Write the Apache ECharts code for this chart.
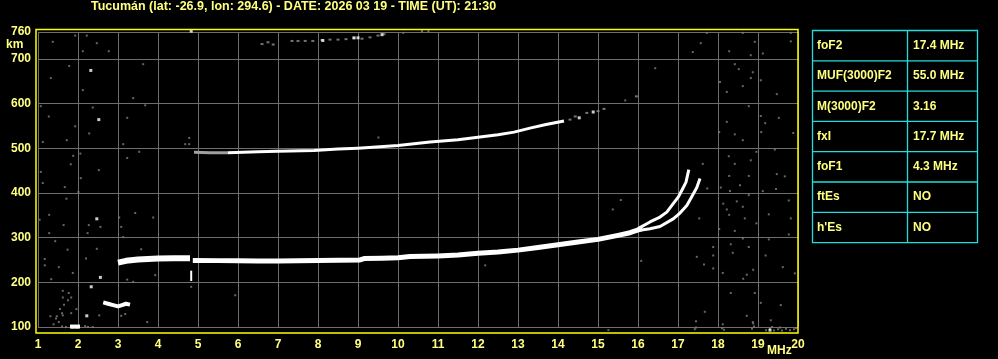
<!DOCTYPE html>
<html><head><meta charset="utf-8">
<script src="https://cdn.jsdelivr.net/npm/echarts@6/dist/echarts.min.js"></script>
<style>html,body{margin:0;padding:0;background:#000;}#c{width:998px;height:359px;}</style>
</head><body><div id="c"></div><script>
// ---------- text ----------
const TITLE = 'Tucumán (lat: -26.9, lon: 294.6) - DATE: 2026 03 19 - TIME (UT): 21:30';
const tableKeys = ['foF2', 'MUF(3000)F2', 'M(3000)F2', 'fxI', 'foF1', 'ftEs', "h'Es"];
const tableVals = ['17.4 MHz', '55.0 MHz', '3.16', '17.7 MHz', '4.3 MHz', 'NO', 'NO'];

// ---------- axes ----------
const freqMin = 1, freqMax = 20, freqStep = 1;
const hMin = 100, hMax = 760, hStep = 100;

// ---------- traces (frequency MHz, virtual height km) ----------
const traceAF = [3.0, 3.2, 3.5, 4.0, 4.4, 4.8];
const traceAH = [244, 248, 251, 253, 254, 254];
const traceBF = [4.87, 5.5, 6.0, 6.5, 7.0, 7.5, 8.0, 8.5, 9.05, 9.15, 9.6, 10.0, 10.3, 11.0, 11.5, 12.0, 12.5, 13.0, 13.5, 14.0, 14.5, 15.0, 15.5, 15.8, 16.1];
const traceBH = [249, 248.5, 248, 247.5, 247.5, 248, 249, 249.5, 250, 253, 254, 255, 257.5, 259, 261, 265, 268, 272, 278, 284, 290, 296, 305, 311, 320];
const oModeF = [16.0, 16.3, 16.55, 16.72, 16.88, 17.01, 17.12, 17.2, 17.27];
const oModeH = [320, 335, 346, 357, 376, 391, 410, 424, 452];
const xModeF = [16.0, 16.3, 16.55, 16.88, 17.05, 17.22, 17.34, 17.47, 17.55];
const xModeH = [316, 320, 325, 342, 355, 372, 391, 412, 432];
const hop2aF = [4.9, 5.3, 5.75];
const hop2aH = [491, 490, 490];
const hop2F = [5.75, 6.5, 7.0, 7.9, 8.5, 9.0, 9.55, 10.0, 10.8, 11.5, 12.05, 12.5, 12.9, 13.3, 13.7, 14.15];
const hop2H = [490, 492, 493, 495, 498, 500, 503, 506, 514, 519, 525, 530, 536, 545, 553, 561];
const eLayerF = [2.63, 2.75, 2.88, 3.0, 3.1, 3.2, 3.3];
const eLayerH = [155, 152, 149, 146, 149, 152, 150];
const lowF = [1.8, 2.05];
const lowH = [101, 101];
const spikeF = [4.83, 4.83];
const spikeH = [203, 226];
const hop3 = [[6.6,733],[6.75,737],[6.88,732],[7.35,740],[7.5,740],[7.68,740],[7.87,740],[8.1,742],[8.3,743],[8.5,743],[8.7,744],[8.9,746],[9.1,745],[9.3,748],[9.5,752],[9.65,755],[14.3,564],[14.43,571],[14.72,579],[15.0,583],[15.15,588],[15.96,616]];
const whiteDots = [[2.32,674],[2.52,564],[2.47,342],[2.56,211],[2.33,190],[2.22,125],[4.83,762],[1.87,100],[1.97,100],[8.12,741],[8.9,747],[9.0,747],[9.6,754],[14.53,568],[14.88,581],[19.3,93]];
const grayDots = [
 [1.93,752],[2.22,752],[1.37,738],[2.47,735],[2.77,717],[2.12,717],[1.78,684],[1.32,657],[2.12,630],[1.07,594],[2.37,591],[1.27,571],[1.93,549],[2.28,533],[1.12,514],[1.72,518],[2.06,488],[1.88,483],[1.82,464],[1.07,447],[2.52,451],[2.07,433],[1.12,422],[1.67,413],[2.01,402],[1.71,387],[1.28,351],[1.04,340],[1.64,328],[2.27,328],[2.56,324],[1.28,310],[2.24,310],[1.43,292],[1.74,273],[2.47,275],[1.17,252],[2.2,253],[1.17,238],[1.52,234],[1.87,221],[1.33,207],[1.62,181],[1.77,176],[1.62,166],[1.83,166],[1.96,140],[1.6,131],[1.83,131],[1.31,124],[1.47,124],[1.62,126],[2.53,126],[1.52,111],[1.39,106],[2.18,102],[2.37,100],[1.6,101],[1.7,100],[2.25,100],[1.45,119],[1.55,140],[1.65,150],[1.75,160],
 [3.63,688],[3.38,612],[3.68,596],[3.23,568],[4.78,523],[4.68,509],[4.78,509],[3.13,509],[3.53,492],[3.23,478],[3.43,355],[3.88,345],[3.03,345],[3.08,324],[3.13,301],[3.58,274],[3.93,216],[3.23,206],[3.38,201],[4.83,190],[5.93,171],[3.73,111],[3.08,125],[3.18,129],
 [10.13,758],[10.6,762],[10.76,762],[15.68,607],[9.51,524],[15.57,384],[15.37,363],[16.08,248],[12.18,238],[16.43,679],[15.26,93],
 [17.72,758],[18.62,758],[19.82,758],[17.57,735],[18.92,738],[17.37,715],[18.28,717],[18.82,708],[19.12,712],[19.82,739],[18.42,688],[18.52,677],[18.87,670],[18.82,657],[19.07,652],[18.05,648],[18.62,639],[18.22,626],[19.47,621],[18.77,594],[19.07,572],[19.18,556],[18.22,559],[18.03,536],[19.52,568],[19.88,534],[18.42,531],[18.62,518],[19.08,536],[19.42,497],[18.96,492],[18.27,482],[17.62,465],[18.82,473],[18.42,465],[19.47,442],[19.67,437],[18.28,438],[18.77,438],[18.55,417],[18.07,412],[17.73,410],[19.45,409],[19.12,404],[18.3,404],[18.77,395],[18.47,381],[19.77,383],[18.13,376],[18.62,369],[18.22,363],[18.28,351],[18.67,343],[19.27,352],[19.82,343],[17.53,343],[18.03,319],[18.96,332],[18.42,315],[19.77,307],[18.62,298],[19.27,296],[18.32,285],[18.77,279],[17.88,279],[18.37,266],[19.19,260],[17.47,257],[17.88,260],[17.65,240],[17.88,231],[19.62,234],[18.12,221],[18.72,217],[18.88,228],[19.92,220],[18.63,208],[18.32,176],[18.92,176],[19.07,154],[19.57,149],[17.67,134],[18.72,125],[17.45,113],[19.32,115],[18.88,108],[18.12,106],[18.87,111],[17.42,95],[17.45,99],[18.1,97],[18.15,94],[18.9,101],[18.85,96],
 [19.2,93],[19.3,96],[19.4,92],[19.5,95],[19.6,92],[19.7,96],[19.8,93],[19.9,95],[19.95,98],[19.35,100],[19.55,99]
];

// ---------- style ----------
const FONT = "'Liberation Sans', Arial, sans-serif";
const LBL = '#ffff80';
const BORDER = '#ffff00';
const GRIDC = '#6e6e6e';
const CYAN = '#22dddd';

const pairs = (F, H) => F.map((f, i) => [f, H[i]]);
const lineS = (F, H, w, color) => ({ type: 'line', data: pairs(F, H), symbol: 'none', showSymbol: false,
  lineStyle: { width: w, color: color, cap: 'butt', join: 'round' }, silent: true, animation: false, clip: false, z: 5 });
const dotS = (P, color, size, z) => ({ type: 'scatter', data: P, symbol: 'rect', symbolSize: size,
  itemStyle: { color: color }, silent: true, animation: false, clip: false, z: z });

const txt = (text, x, y, align, vAlign) => ({ type: 'text', silent: true, z: 50,
  style: { text: text, x: x, y: y, fill: LBL, font: 'bold 12px ' + FONT,
    align: align, verticalAlign: vAlign, textAlign: align, textVerticalAlign: vAlign } });

const graphics = [];
// plot border
graphics.push({ type: 'rect', silent: true, z: 40,
  shape: { x: 36, y: 29.5, width: 762, height: 303.5 },
  style: { fill: null, stroke: BORDER, lineWidth: 1.5 } });
graphics.push(txt('km', 6, 45, 'left', 'middle'));
graphics.push(txt('MHz', 767, 351, 'left', 'middle'));
// table
const tX = 812.5, tY = 30.5, tW = 165, rowH = 30.3, colX = 907.5;
graphics.push({ type: 'rect', silent: true, z: 40, shape: { x: tX, y: tY, width: tW, height: rowH * tableKeys.length },
  style: { fill: null, stroke: CYAN, lineWidth: 1.3 } });
graphics.push({ type: 'line', silent: true, z: 40, shape: { x1: colX, y1: tY, x2: colX, y2: tY + rowH * tableKeys.length },
  style: { stroke: CYAN, lineWidth: 1.3 } });
for (let i = 1; i < tableKeys.length; i++) {
  graphics.push({ type: 'line', silent: true, z: 40, shape: { x1: tX, y1: tY + rowH * i, x2: tX + tW, y2: tY + rowH * i },
    style: { stroke: CYAN, lineWidth: 1.3 } });
}
tableKeys.forEach((k, i) => {
  graphics.push(txt(k, 817, tY + rowH * i + rowH / 2, 'left', 'middle'));
  graphics.push(txt(tableVals[i], 913, tY + rowH * i + rowH / 2, 'left', 'middle'));
});

const chart = echarts.init(document.getElementById('c'), null, { renderer: 'canvas' });
chart.setOption({
  backgroundColor: '#000',
  animation: false,
  title: { text: TITLE, left: 91, top: 0, padding: 0,
    textStyle: { color: LBL, fontSize: 12.5, fontWeight: 'bold', fontFamily: FONT } },
  grid: { left: 38, top: 32, width: 760, height: 295, containLabel: false },
  xAxis: { type: 'value', min: freqMin, max: freqMax, interval: freqStep,
    axisLine: { show: false }, axisTick: { show: false },
    splitLine: { show: true, lineStyle: { color: GRIDC, width: 1 } },
    axisLabel: { color: LBL, fontSize: 12, fontWeight: 'bold', fontFamily: FONT, margin: 12 } },
  yAxis: { type: 'value', min: hMin, max: hMax, interval: hStep,
    axisLine: { show: false }, axisTick: { show: false },
    splitLine: { show: true, lineStyle: { color: GRIDC, width: 1 } },
    axisLabel: { color: LBL, fontSize: 12, fontWeight: 'bold', fontFamily: FONT, margin: 7 } },
  graphic: graphics,
  series: [
    dotS(grayDots, '#808080', [2, 2], 3),
    dotS(hop3, '#909090', [3, 2], 4),
    lineS(hop2aF, hop2aH, 3, '#a0a0a0'),
    lineS(hop2F, hop2H, 3, '#ffffff'),
    lineS(traceAF, traceAH, 6, '#ffffff'),
    lineS(traceBF, traceBH, 5, '#ffffff'),
    lineS(oModeF, oModeH, 3, '#ffffff'),
    lineS(xModeF, xModeH, 3, '#ffffff'),
    lineS(eLayerF, eLayerH, 4, '#ffffff'),
    lineS(lowF, lowH, 4, '#ffffff'),
    lineS(spikeF, spikeH, 2, '#ffffff'),
    dotS(whiteDots, '#ffffff', [3, 3], 6)
  ]
});
</script></body></html>
